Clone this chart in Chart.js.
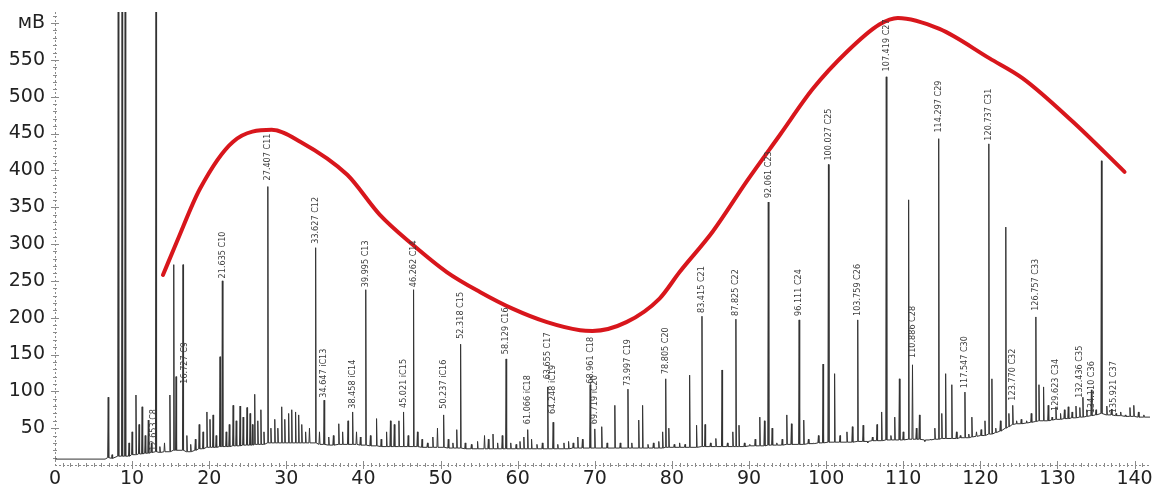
<!DOCTYPE html>
<html>
<head>
<meta charset="utf-8">
<script src="https://cdn.jsdelivr.net/npm/chart.js@4.4.1/dist/chart.umd.min.js"></script>
<style>
  html, body { margin: 0; padding: 0; background: #fff; }
  #wrap { position: relative; width: 1160px; height: 486px; }
</style>
</head>
<body>
<div id="wrap"><canvas id="chrom"></canvas></div>
<script>
// retention time (min), peak height (mV) and the level the peak rises from
const peakTimes = [6.9, 7.4, 8.2, 8.7, 9.1, 9.6, 10.0, 10.5, 10.9, 11.3, 11.7, 12.1, 12.5, 13.1, 13.6, 14.2, 14.9, 15.4, 15.7, 16.6,
  17.1, 17.6, 18.2, 18.7, 19.2, 19.7, 20.1, 20.5, 20.9, 21.4, 21.7, 22.2, 22.6, 23.1, 23.5, 24.0, 24.4, 24.9, 25.3, 25.6,
  25.9, 26.3, 26.7, 27.1, 27.6, 28.0, 28.5, 28.9, 29.4, 29.8, 30.3, 30.7, 31.2, 31.6, 32.0, 32.5, 33.0, 33.8, 34.3, 34.9,
  35.5, 36.1, 36.8, 37.3, 38.0, 38.6, 39.1, 39.6, 40.3, 40.9, 41.7, 42.3, 43.0, 43.5, 44.0, 44.6, 45.2, 45.8, 46.5, 47.0,
  47.6, 48.3, 49.0, 49.6, 50.4, 51.0, 51.6, 52.1, 52.6, 53.2, 54.0, 54.8, 55.7, 56.2, 56.8, 57.4, 58.0, 58.5, 59.1, 59.8,
  60.3, 60.8, 61.3, 61.8, 62.5, 63.2, 63.9, 64.6, 65.2, 66.0, 66.6, 67.2, 67.8, 68.4, 69.4, 70.0, 70.9, 71.6, 72.6, 73.3,
  74.3, 74.8, 75.7, 76.2, 76.9, 77.6, 78.3, 78.8, 79.2, 79.6, 80.3, 81.0, 81.7, 82.3, 83.2, 83.9, 84.3, 85.0, 85.7, 86.5,
  87.2, 87.9, 88.3, 88.7, 89.4, 90.1, 90.8, 91.4, 92.0, 92.5, 93.0, 93.6, 94.3, 94.9, 95.5, 96.5, 97.1, 97.7, 98.4, 99.0,
  99.6, 100.3, 101.1, 101.8, 102.7, 103.4, 104.1, 104.8, 105.4, 106.0, 106.6, 107.2, 107.8, 108.4, 108.9, 109.5, 110.0, 110.7, 111.2, 111.7,
  112.1, 112.8, 113.5, 114.1, 114.6, 115.0, 115.5, 116.3, 116.9, 117.4, 118.0, 118.5, 118.9, 119.5, 120.1, 120.6, 121.1, 121.5, 122.0, 122.6,
  123.3, 123.7, 124.2, 124.7, 125.3, 126.0, 126.6, 127.2, 127.6, 128.2, 128.8, 129.3, 129.8, 130.4, 130.9, 131.4, 131.9, 132.4, 132.9, 133.3,
  133.8, 134.4, 135.0, 135.7, 136.4, 137.0, 137.6, 138.2, 138.8, 139.4, 139.9, 140.5, 141.2]
const peakHeights = [92, 14, 700, 700, 700, 30, 45, 95, 55, 79, 40, 61, 30, 700, 25, 30, 95, 272, 120, 272,
  40, 28, 35, 55, 45, 72, 62, 68, 40, 147, 250, 45, 55, 81, 60, 80, 65, 78, 70, 55,
  96, 60, 75, 45, 378, 50, 62, 50, 79, 62, 70, 75, 72, 68, 55, 45, 50, 295, 45, 88,
  38, 40, 56, 45, 60, 72, 45, 38, 238, 40, 63, 35, 45, 60, 55, 60, 72, 40, 238, 45,
  35, 30, 38, 50, 68, 35, 30, 48, 164, 30, 28, 32, 40, 35, 42, 30, 40, 144, 30, 28,
  32, 38, 48, 35, 28, 30, 106, 58, 28, 30, 32, 30, 38, 35, 109, 49, 52, 30, 81, 30,
  103, 30, 61, 81, 28, 30, 32, 45, 117, 50, 28, 30, 28, 122, 54, 202, 55, 30, 36, 129,
  30, 45, 198, 54, 30, 28, 35, 65, 60, 357, 50, 30, 35, 68, 56, 197, 61, 35, 30, 40,
  137, 408, 124, 40, 45, 52, 197, 54, 30, 38, 55, 72, 527, 40, 65, 117, 45, 360, 136, 50,
  68, 32, 35, 50, 443, 70, 124, 109, 45, 40, 99, 42, 65, 45, 48, 60, 436, 117, 50, 60,
  323, 70, 81, 60, 62, 60, 70, 201, 109, 106, 81, 65, 79, 70, 75, 79, 72, 80, 78, 92,
  75, 102, 75, 413, 80, 76, 70, 72, 68, 78, 81, 72, 68]
const peakFeet = [10, 9, 12, 12, 12, 12, 14, 14, 15, 15, 16, 16, 17, 18, 17, 18, 18, 20, 20, 20,
  18, 18, 20, 22, 22, 24, 24, 24, 24, 25, 25, 25, 25, 26, 26, 26, 27, 27, 27, 27,
  28, 28, 28, 28, 30, 30, 30, 30, 30, 30, 30, 30, 30, 30, 30, 30, 30, 30, 28, 28,
  27, 27, 28, 28, 28, 28, 28, 27, 27, 26, 26, 25, 25, 25, 25, 25, 25, 25, 25, 25,
  24, 24, 24, 24, 24, 23, 23, 23, 23, 22, 22, 22, 22, 22, 22, 22, 22, 22, 22, 22,
  22, 22, 22, 22, 22, 22, 22, 22, 22, 22, 22, 23, 23, 23, 23, 23, 23, 23, 23, 23,
  23, 23, 23, 23, 23, 23, 23, 23, 24, 24, 24, 24, 24, 24, 24, 25, 25, 25, 25, 25,
  25, 25, 25, 25, 25, 26, 26, 26, 26, 27, 27, 27, 27, 28, 28, 28, 28, 29, 29, 30,
  30, 31, 31, 31, 31, 31, 32, 32, 32, 33, 33, 33, 34, 34, 34, 34, 34, 35, 35, 35,
  35, 34, 34, 35, 35, 36, 36, 36, 36, 37, 37, 37, 38, 39, 40, 40, 42, 42, 44, 46,
  50, 52, 55, 56, 56, 57, 58, 59, 60, 60, 60, 61, 62, 62, 63, 63, 64, 64, 65, 65,
  66, 67, 68, 70, 68, 68, 67, 67, 66, 66, 66, 65, 65]
const baseTimes = [0, 6.5, 142]
const baseLevels = [8, 8, 65]

// red envelope curve
const curveTimes = [14.0, 15.8, 18.8, 23.1, 28.1, 31.8, 37.9, 42.1, 46.4, 50.8, 55.1, 59.4, 63.8, 68.1, 69.7,
  74.1, 78.4, 81.0, 85.3, 89.7, 94.0, 98.3, 102.7, 106.9, 109.3, 114.7, 121.2, 125.5, 132.0, 138.7]
const curveLevels = [258, 303, 375, 439, 455, 439, 394, 340, 299, 262, 235, 212, 194, 183, 182,
  194, 226, 262, 317, 385, 448, 511, 561, 598, 607, 592, 552, 525, 466, 398]

// peak annotations: text, x position, level of the label's lower end
const peakLabels = ["12.653 C8", "16.727 C9", "21.635 C10", "27.407 C11", "33.627 C12", "34.647 iC13", "38.458 iC14",
  "39.995 C13", "45.021 iC15", "46.262 C14", "50.237 iC16", "52.318 C15", "58.129 C16", "61.066 iC18", "63.655 C17",
  "64.248 iC19", "68.961 C18", "69.719 iC20", "73.997 C19", "78.805 C20", "83.415 C21", "87.825 C22", "92.061 C23",
  "96.111 C24", "100.027 C25", "103.759 C26", "107.419 C27", "110.886 C28", "114.297 C29", "117.547 C30", "120.737 C31",
  "123.770 C32", "126.757 C33", "129.623 C34", "132.436 C35", "134.110 C36", "135.921 C37"]
const labelTimes = [12.8, 16.8, 21.7, 27.6, 33.8, 34.9, 38.6, 40.3, 45.2, 46.5, 50.4, 52.6, 58.5, 61.3, 63.9,
  64.6, 69.4, 70.0, 74.3, 79.2, 83.9, 88.3, 92.5, 96.5, 100.3, 104.1, 107.8, 111.2, 114.6, 118.0, 121.1,
  124.2, 127.2, 129.8, 132.9, 134.4, 137.3]
const labelLevels = [18, 109, 252, 385, 299, 90, 75, 240, 76, 240, 75, 170, 149, 54, 115,
  68, 109, 54, 106, 122, 205, 201, 361, 201, 412, 201, 533, 144, 450, 103, 439,
  86, 208, 72, 90, 69, 69]

const xTicks = [0, 10, 20, 30, 40, 50, 60, 70, 80, 90, 100, 110, 120, 130, 140]
const yTicks = [50, 100, 150, 200, 250, 300, 350, 400, 450, 500, 550, 600]
const yUnit = "мВ"

const halfWidth = 0.07
const trace = baseTimes.map((t, i) => ({x: t, y: baseLevels[i]}))
peakTimes.forEach((t, i) => {
    trace.push({x: t - halfWidth, y: peakFeet[i]})
    trace.push({x: t, y: peakHeights[i]})
    trace.push({x: t + halfWidth, y: peakFeet[i]})
})
trace.sort((a, b) => a.x - b.x)

const curve = curveTimes.map((t, i) => ({x: t, y: curveLevels[i]}))

// dotted axes with small tick marks, as in the instrument printout
const axesPlugin = {
    id: 'axes',
    beforeDatasetsDraw(chart) {
        const ctx = chart.ctx
        const xs = chart.scales.x, ys = chart.scales.y
        const area = chart.chartArea
        ctx.save()
        ctx.strokeStyle = '#8a8a8a'
        ctx.lineWidth = 1
        ctx.setLineDash([2, 2])
        ctx.beginPath()
        ctx.moveTo(area.left + 0.5, area.top)
        ctx.lineTo(area.left + 0.5, area.bottom)
        ctx.moveTo(area.left, area.bottom + 0.5)
        ctx.lineTo(area.right, area.bottom + 0.5)
        ctx.stroke()
        ctx.setLineDash([])
        ctx.beginPath()
        for (let v = 10; v <= 610; v += 10) {
            const py = Math.round(ys.getPixelForValue(v)) + 0.5
            const len = v % 50 === 0 ? 4 : 2
            ctx.moveTo(area.left - len, py)
            ctx.lineTo(area.left + len, py)
        }
        for (let v = 1; v <= 141; v += 1) {
            const px = Math.round(xs.getPixelForValue(v)) + 0.5
            const len = v % 10 === 0 ? 4 : 2
            ctx.moveTo(px, area.bottom - len)
            ctx.lineTo(px, area.bottom + len)
        }
        ctx.stroke()
        ctx.restore()
    }
}

const labelPlugin = {
    id: 'peakLabels',
    afterDatasetsDraw(chart) {
        const ctx = chart.ctx
        const xs = chart.scales.x, ys = chart.scales.y
        ctx.save()
        ctx.fillStyle = '#3c3c3c'
        ctx.font = '9px "Liberation Sans Narrow", "DejaVu Sans Condensed", sans-serif'
        ctx.textAlign = 'left'
        ctx.textBaseline = 'middle'
        peakLabels.forEach((txt, i) => {
            const px = xs.getPixelForValue(labelTimes[i])
            const py = ys.getPixelForValue(labelLevels[i])
            ctx.save()
            ctx.translate(px, py - 1)
            ctx.rotate(-Math.PI / 2)
            ctx.fillText(txt, 0, 0)
            ctx.restore()
        })
        ctx.restore()
    }
}

const tickFont = { family: '"DejaVu Sans", sans-serif', size: 19 }

new Chart(document.getElementById('chrom').getContext('2d'), {
    type: 'line',
    data: {
        datasets: [
            {
                data: curve,
                borderColor: '#d8161c',
                borderWidth: 4,
                borderCapStyle: 'round',
                cubicInterpolationMode: 'monotone',
                pointRadius: 0,
                fill: false,
                order: 0
            },
            {
                data: trace,
                borderColor: '#333333',
                borderWidth: 1,
                tension: 0,
                pointRadius: 0,
                fill: false,
                order: 1
            }
        ]
    },
    options: {
        responsive: true,
        maintainAspectRatio: false,
        animation: false,
        layout: { padding: { top: 12, right: 10, left: 0, bottom: 0 } },
        plugins: {
            legend: { display: false },
            tooltip: { enabled: false }
        },
        scales: {
            x: {
                type: 'linear',
                min: 0,
                max: 142,
                afterBuildTicks: (scale) => { scale.ticks = xTicks.map(v => ({value: v})) },
                afterFit: (scale) => { scale.height = 21 },
                grid: { display: false, drawTicks: false },
                border: { display: false },
                ticks: { color: '#222', font: tickFont, padding: 3, maxRotation: 0, autoSkip: false }
            },
            y: {
                type: 'linear',
                min: 0,
                max: 615,
                afterBuildTicks: (scale) => { scale.ticks = yTicks.map(v => ({value: v})) },
                afterFit: (scale) => {
                    scale.width = 55
                    // top label sits below the edge, so no extra room is needed for it
                    scale.paddingTop = 0
                    scale.paddingBottom = 0
                },
                grid: { display: false, drawTicks: false },
                border: { display: false },
                ticks: {
                    color: '#222',
                    font: tickFont,
                    padding: 10,
                    autoSkip: false,
                    callback: (v) => v === 600 ? yUnit : v
                }
            }
        }
    },
    plugins: [axesPlugin, labelPlugin]
})
</script>
</body>
</html>
